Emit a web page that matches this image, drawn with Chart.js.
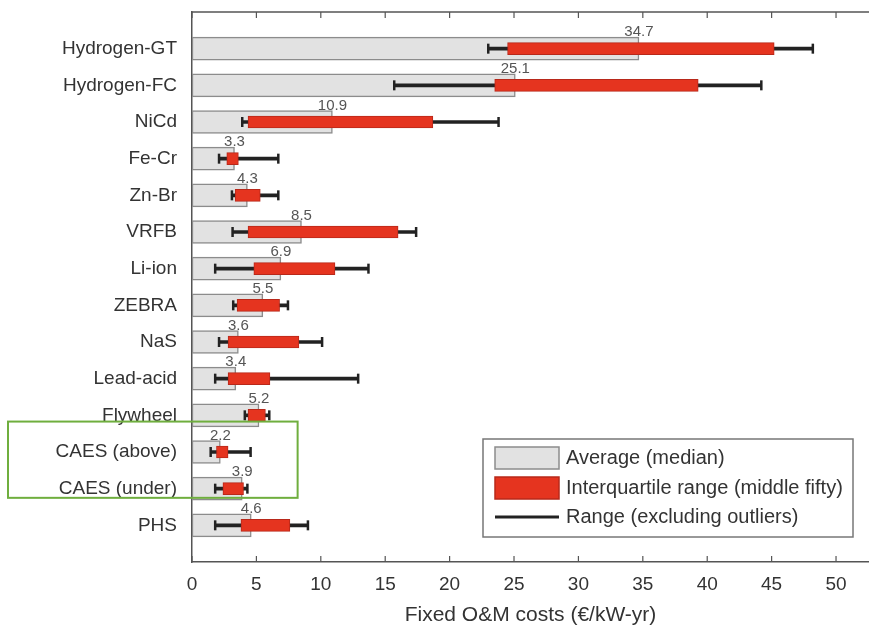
<!DOCTYPE html>
<html>
<head>
<meta charset="utf-8">
<script src="https://cdn.jsdelivr.net/npm/chart.js@4.4.0/dist/chart.umd.min.js"></script>
<style>
  html, body { margin: 0; padding: 0; background: #fff; }
  #wrap { width: 869px; height: 632px; position: relative; }
</style>
</head>
<body>
<div id="wrap"><canvas id="omChart" width="869" height="632"></canvas></div>
<script>
// Technologies, top to bottom
const categories = ['Hydrogen-GT', 'Hydrogen-FC', 'NiCd', 'Fe-Cr', 'Zn-Br', 'VRFB', 'Li-ion',
  'ZEBRA', 'NaS', 'Lead-acid', 'Flywheel', 'CAES (above)', 'CAES (under)', 'PHS'];

// Fixed O&M costs (€/kW-yr)
const medians = [34.7, 25.1, 10.9, 3.3, 4.3, 8.5, 6.9, 5.5, 3.6, 3.4, 5.2, 2.2, 3.9, 4.6];
const q1 = [24.5, 23.5, 4.35, 2.7, 3.35, 4.35, 4.8, 3.5, 2.8, 2.8, 4.35, 1.9, 2.4, 3.8];
const q3 = [45.2, 39.3, 18.7, 3.6, 5.3, 16.0, 11.1, 6.8, 8.3, 6.05, 5.7, 2.8, 4.0, 7.6];
const rangeMin = [23.0, 15.7, 3.9, 2.1, 3.1, 3.15, 1.8, 3.2, 2.1, 1.8, 4.1, 1.45, 1.8, 1.8];
const rangeMax = [48.2, 44.2, 23.8, 6.7, 6.7, 17.4, 13.7, 7.45, 10.1, 12.9, 6.0, 4.55, 4.3, 9.0];

const xTicks = [0, 5, 10, 15, 20, 25, 30, 35, 40, 45, 50];

const FONT = 'Liberation Sans, Arial, sans-serif';
const GRAY_FILL = '#e2e2e2';
const GRAY_EDGE = '#8c8c8c';
const RED_FILL = '#e5341f';
const RED_EDGE = '#b8281a';
const LINE = '#222222';

// median labels above the gray bars
const medianLabels = {
  id: 'medianLabels',
  afterDatasetsDraw(chart) {
    const { ctx, scales: { x, y } } = chart;
    ctx.save();
    ctx.font = '15px ' + FONT;
    ctx.fillStyle = '#555';
    ctx.textAlign = 'center';
    ctx.textBaseline = 'bottom';
    medians.forEach((m, i) => {
      ctx.fillText(m.toFixed(1), x.getPixelForValue(m), y.getPixelForValue(i + 1) - 9);
    });
    ctx.restore();
  }
};

// matlab-like frame: top line and inward ticks, plus legend and highlight
const frame = {
  id: 'frame',
  afterDraw(chart) {
    const { ctx, chartArea: a, scales: { x } } = chart;
    ctx.save();
    ctx.strokeStyle = '#555';
    ctx.lineWidth = 1.5;
    ctx.beginPath();
    ctx.moveTo(a.left, a.top);
    ctx.lineTo(a.right, a.top);
    ctx.stroke();
    ctx.lineWidth = 1.2;
    x.ticks.forEach(t => {
      const px = x.getPixelForValue(t.value);
      ctx.beginPath();
      ctx.moveTo(px, a.top);
      ctx.lineTo(px, a.top + 6);
      ctx.moveTo(px, a.bottom);
      ctx.lineTo(px, a.bottom - 6);
      ctx.stroke();
    });

    // legend box
    const lx = 483, ly = 439, lw = 370, lh = 98;
    ctx.fillStyle = '#fff';
    ctx.fillRect(lx, ly, lw, lh);
    ctx.strokeStyle = '#777';
    ctx.lineWidth = 1.5;
    ctx.strokeRect(lx, ly, lw, lh);

    ctx.fillStyle = GRAY_FILL;
    ctx.fillRect(lx + 12, ly + 8, 64, 22);
    ctx.strokeStyle = GRAY_EDGE;
    ctx.strokeRect(lx + 12, ly + 8, 64, 22);
    ctx.fillStyle = RED_FILL;
    ctx.fillRect(lx + 12, ly + 38, 64, 22);
    ctx.strokeStyle = RED_EDGE;
    ctx.strokeRect(lx + 12, ly + 38, 64, 22);
    ctx.strokeStyle = LINE;
    ctx.lineWidth = 3;
    ctx.beginPath();
    ctx.moveTo(lx + 12, ly + 78);
    ctx.lineTo(lx + 76, ly + 78);
    ctx.stroke();

    ctx.fillStyle = '#333';
    ctx.font = '20px ' + FONT;
    ctx.textAlign = 'left';
    ctx.textBaseline = 'middle';
    ctx.fillText('Average (median)', lx + 83, ly + 19);
    ctx.fillText('Interquartile range (middle fifty)', lx + 83, ly + 49);
    ctx.fillText('Range (excluding outliers)', lx + 83, ly + 78);

    // green highlight round the two CAES rows
    const y = chart.scales.y;
    ctx.strokeStyle = '#6fae3e';
    ctx.lineWidth = 2;
    const top = y.getPixelForValue(11.17);
    const bottom = y.getPixelForValue(13.25);
    ctx.strokeRect(8, top, x.getPixelForValue(8.2) - 8, bottom - top);
    ctx.restore();
  }
};

const ctx = document.getElementById('omChart');

new Chart(ctx, {
  type: 'bar',
  data: {
    datasets: [
      {
        label: 'Interquartile range (middle fifty)',
        indexAxis: 'y',
        data: categories.map((c, i) => ({ x: [q1[i], q3[i]], y: i + 1 })),
        backgroundColor: RED_FILL,
        borderColor: RED_EDGE,
        borderWidth: 1,
        borderSkipped: false,
        barThickness: 12,
        grouped: false,
        order: 1
      },
      {
        label: 'Range (excluding outliers)',
        indexAxis: 'y',
        data: categories.map((c, i) => ({ x: [rangeMin[i], rangeMax[i]], y: i + 1 })),
        backgroundColor: LINE,
        borderWidth: 0,
        barThickness: 3,
        grouped: false,
        order: 2
      },
      {
        label: 'caps',
        type: 'scatter',
        indexAxis: 'x',
        data: categories.flatMap((c, i) => [{ x: rangeMin[i], y: i + 1 }, { x: rangeMax[i], y: i + 1 }]),
        pointStyle: 'line',
        rotation: 90,
        radius: 5,
        borderWidth: 2.5,
        borderColor: LINE,
        order: 0
      },
      {
        label: 'Average (median)',
        indexAxis: 'y',
        data: categories.map((c, i) => ({ x: [0, medians[i]], y: i + 1 })),
        backgroundColor: GRAY_FILL,
        borderColor: GRAY_EDGE,
        borderWidth: 1.5,
        borderSkipped: false,
        barThickness: 23,
        grouped: false,
        order: 3
      }
    ]
  },
  options: {
    responsive: false,
    animation: false,
    indexAxis: 'y',
    layout: { autoPadding: false, padding: { top: 12, right: 0, bottom: 0, left: 0 } },
    plugins: {
      legend: { display: false },
      tooltip: { enabled: false }
    },
    scales: {
      x: {
        type: 'linear',
        position: 'bottom',
        min: 0,
        max: 52.56,
        offset: false,
        afterBuildTicks: scale => { scale.ticks = xTicks.map(v => ({ value: v })); },
        afterFit: scale => {
          scale.height = 70;
          scale.paddingLeft = 0;
          scale.paddingRight = 0;
        },
        grid: { display: false, drawTicks: false },
        border: { display: true, color: '#555', width: 1.5 },
        ticks: {
          padding: 11,
          color: '#333',
          font: { family: FONT, size: 19 },
          maxRotation: 0
        },
        title: {
          display: true,
          text: 'Fixed O\u0026M costs (\u20ac/kW-yr)',
          color: '#333',
          font: { family: FONT, size: 21 },
          padding: { top: 0, bottom: 4 }
        }
      },
      y: {
        type: 'linear',
        min: 0,
        max: 15,
        reverse: true,
        offset: false,
        afterBuildTicks: scale => { scale.ticks = categories.map((c, i) => ({ value: i + 1 })); },
        afterFit: scale => {
          scale.width = 192;
          scale.paddingTop = 0;
          scale.paddingBottom = 0;
        },
        grid: { display: false, drawTicks: false, offset: false },
        border: { display: true, color: '#555', width: 1.5 },
        ticks: {
          padding: 15,
          color: '#333',
          font: { family: FONT, size: 19 },
          callback: v => categories[v - 1]
        }
      }
    }
  },
  plugins: [medianLabels, frame]
});
</script>
</body>
</html>
